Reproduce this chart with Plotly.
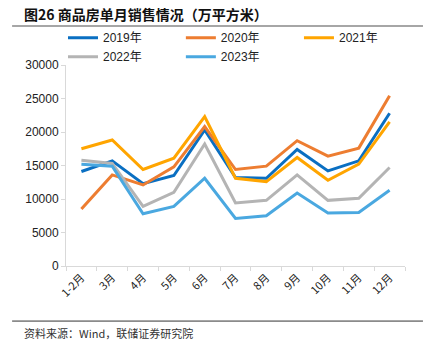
import plotly.graph_objects as go

months = ["1-2月", "3月", "4月", "5月", "6月", "7月", "8月", "9月", "10月", "11月", "12月"]
s2019 = [14100, 15700, 12300, 13500, 20300, 13200, 13100, 17400, 14200, 15700, 22800]
s2020 = [8500, 13600, 12100, 14800, 20800, 14400, 14900, 18700, 16400, 17600, 25400]
s2021 = [17500, 18800, 14400, 16100, 22300, 13100, 12600, 16200, 12800, 15200, 21500]
s2022 = [15800, 15300, 8900, 11000, 18200, 9400, 9800, 13600, 9800, 10100, 14700]
s2023 = [15200, 14900, 7800, 8900, 13100, 7100, 7500, 10900, 7900, 8000, 11300]

names = ["2019年", "2020年", "2021年", "2022年", "2023年"]
colors = ["#0A6FC2", "#ED7D31", "#FFA500", "#B4B4B4", "#4AA8E0"]
series = [s2019, s2020, s2021, s2022, s2023]
legend_ids = ["legend", "legend2", "legend3", "legend", "legend2"]

font = "Liberation Sans, Arial, Noto Sans CJK SC"

fig = go.Figure()
for n, c, s, lg in zip(names, colors, series, legend_ids):
    fig.add_trace(go.Scatter(x=months, y=s, name=n, mode="lines", legend=lg,
                             line=dict(color=c, width=3)))

leg_common = dict(orientation="v", xanchor="left", xref="container",
                  y=0.934, yanchor="top", yref="container",
                  font=dict(size=12, family=font), tracegroupgap=0,
                  itemwidth=30, bgcolor="rgba(0,0,0,0)")

fig.update_layout(
    width=439, height=352,
    margin=dict(l=66, r=34, t=65, b=86, autoexpand=False),
    paper_bgcolor="white", plot_bgcolor="white",
    font=dict(family=font, size=11, color="#222"),
    showlegend=True,
    legend=dict(x=0.1435, **leg_common),
    legend2=dict(x=0.412, **leg_common),
    legend3=dict(x=0.681, **leg_common),
    xaxis=dict(type="category", range=[-0.5, 10.5], tickangle=-45,
               showline=True, linecolor="#D9D9D9", linewidth=1,
               ticks="outside", tickson="boundaries", ticklen=4, tickcolor="#D9D9D9",
               showgrid=False, tickfont=dict(size=11, family="Noto Sans CJK SC")),
    yaxis=dict(range=[0, 30000], dtick=5000, showgrid=False, tickformat="d",
               showline=True, linecolor="#D9D9D9", linewidth=1,
               ticks="outside", ticklen=4, tickcolor="#D9D9D9",
               tickfont=dict(size=12), zeroline=False),
)

fig.add_annotation(text="<b>图26 商品房单月销售情况（万平方米）</b>", xref="paper", yref="paper",
                   x=-0.13, y=1.254, xanchor="left", yanchor="middle", showarrow=False,
                   font=dict(size=14, family="Noto Sans CJK SC", color="#111"))
fig.add_annotation(text="资料来源：Wind，联储证券研究院", xref="paper", yref="paper",
                   x=-0.13, y=-0.333, xanchor="left", yanchor="middle", showarrow=False,
                   font=dict(size=11, family="Noto Sans CJK SC", color="#333"))
fig.add_shape(type="line", xref="paper", yref="paper", x0=-0.159, x1=1.053, y0=1.194, y1=1.194,
              line=dict(color="#888", width=1.5))
fig.add_shape(type="line", xref="paper", yref="paper", x0=-0.159, x1=1.053, y0=-0.274, y1=-0.274,
              line=dict(color="#333", width=1))

fig.write_html("out.html")
